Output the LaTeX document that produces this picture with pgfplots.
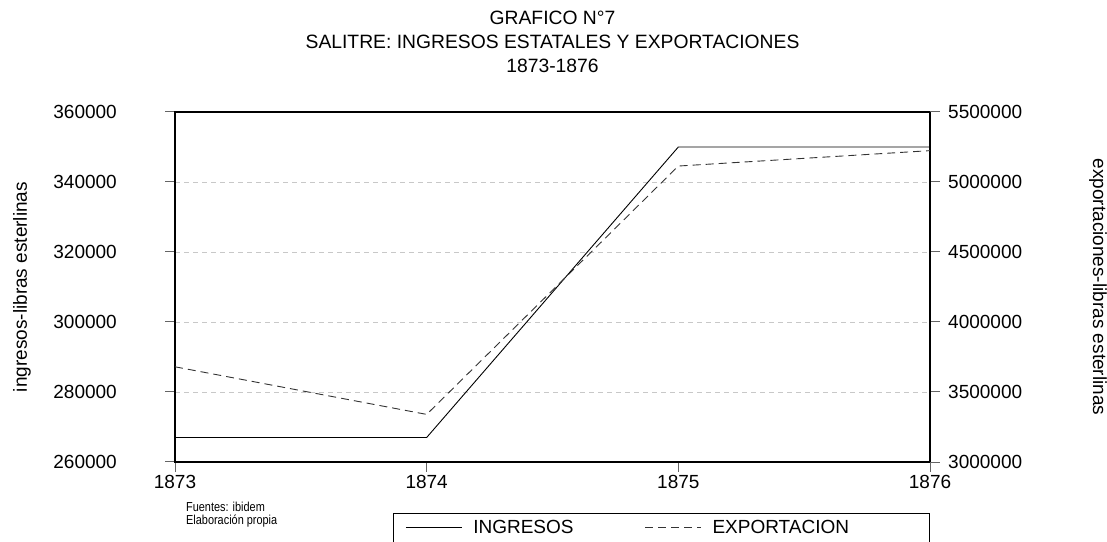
\documentclass[border=0pt]{standalone}
\usepackage{pgfplots}
\pgfplotsset{compat=1.18}
\usepackage{pgfplotstable}
\usepackage{fontspec}
\setmainfont{Liberation Sans}

\pgfplotstableread{
year ingresos
1873 267000
1874 267000
1875 350000
1876 350000
}\ingresos
\pgfplotstableread{
year export
1873 3680000
1874 3340000
1875 5114000
1876 5224000
}\exportaciones

\definecolor{gridgray}{RGB}{200,200,200}
\definecolor{tickgray}{RGB}{100,100,100}

\pgfplotsset{
  common/.style={
    at={(175bp,80bp)}, anchor=south west,
    scale only axis, width=755bp, height=350bp,
    xmin=1873, xmax=1876,
    scaled ticks=false,
    tick align=outside,
    major tick length=10bp,
    tick style={tickgray, line width=1bp},
    ticklabel style={font=\fontsize{19bp}{23bp}\selectfont},
    /pgf/number format/.cd, fixed, precision=0, 1000 sep={}, assume math mode=true, /pgfplots/.cd,
  }
}

\begin{document}
\begin{tikzpicture}
\useasboundingbox (0,0) rectangle (1107bp,542bp);
\begin{scope}
\clip (0,0) rectangle (1107bp,542bp);
\begin{axis}[
  common,
  ymin=260000, ymax=360000,
  xtick={1873,1874,1875,1876},
  ytick={260000,280000,300000,320000,340000,360000},
  xtick pos=bottom, ytick pos=left,
  axis line style={black, line width=1.2bp},
  ymajorgrids,
  major grid style={gridgray, dash pattern=on 5bp off 4bp, line width=0.9bp},
  yticklabel style={anchor=east, inner sep=0pt, xshift=-48bp},
  xticklabel style={anchor=north, inner sep=0pt, yshift=-3bp},
  title={GRAFICO N°7\\SALITRE: INGRESOS ESTATALES Y EXPORTACIONES\\1873-1876},
  title style={align=center, font=\fontsize{19.3bp}{24bp}\selectfont, at={(axis description cs:0.5,1)}, anchor=south, inner sep=0pt, yshift=33bp},
  ylabel={ingresos-libras esterlinas},
  every axis y label/.style={at={(axis description cs:-0.2026,0.5)}, anchor=center, rotate=90, font=\fontsize{19bp}{23bp}\selectfont},
  extra description/.code={\draw[black, line width=2.2bp] (axis description cs:0,0) -- (axis description cs:0,1);},
]
\addplot[black, line width=0.9bp] table[x=year, y=ingresos]{\ingresos};
\end{axis}
\begin{axis}[
  common,
  ymin=3000000, ymax=5500000,
  axis x line=none,
  axis y line*=right,
  ytick={3000000,3500000,4000000,4500000,5000000,5500000},
  y axis line style={black, line width=1.2bp},
  yticklabel style={anchor=west, inner sep=0pt, xshift=8bp},
  ylabel={exportaciones-libras esterlinas},
  every axis y label/.style={at={(axis description cs:1.2225,0.5)}, anchor=center, rotate=-90, font=\fontsize{19bp}{23bp}\selectfont},
  legend columns=2,
  legend cell align=left,
  legend image code/.code={\draw[#1] (0bp,0bp) -- (56bp,0bp);},
  legend style={at={(axis description cs:1,-0.1457)}, anchor=north east,
    draw=black, line width=1bp, inner xsep=12bp, inner ysep=7bp,
    font=\fontsize{19bp}{23bp}\selectfont,
    nodes={inner sep=0pt},
    column sep=11bp,
    /tikz/every even column/.append style={column sep=71bp}},
]
\addlegendimage{black, line width=0.9bp}
\addplot[black!80, line width=0.9bp, dash pattern=on 8bp off 5bp] table[x=year, y=export]{\exportaciones};
\legend{INGRESOS, \makebox[205bp][l]{EXPORTACION}}
\end{axis}
\node[anchor=west, xscale=0.84, inner sep=0pt, font=\fontsize{13bp}{15bp}\selectfont] at (186bp,35bp) {Fuentes: ibidem};
\node[anchor=west, xscale=0.84, inner sep=0pt, font=\fontsize{13bp}{15bp}\selectfont] at (186bp,21bp) {Elaboración propia};
\end{scope}
\end{tikzpicture}
\end{document}
